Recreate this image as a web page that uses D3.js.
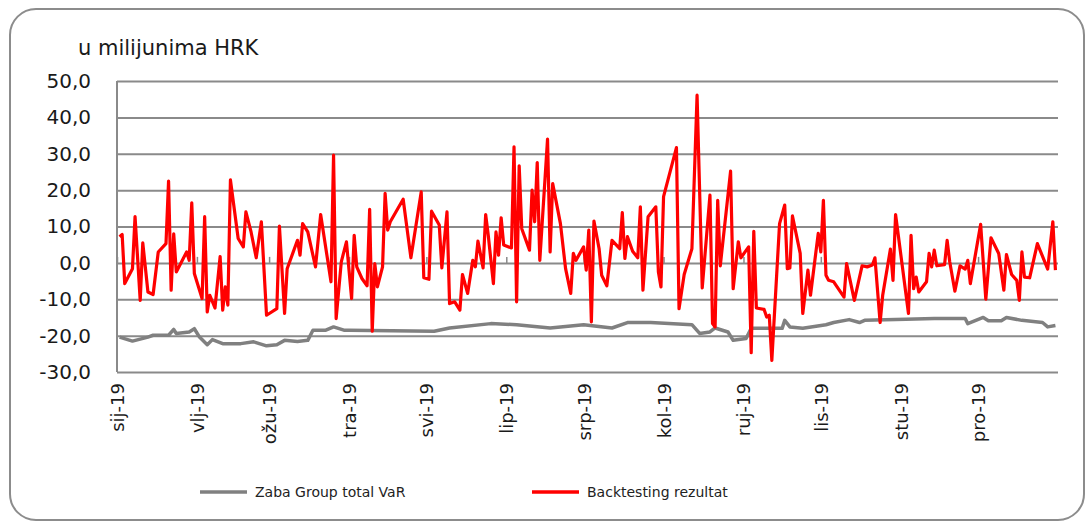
<!DOCTYPE html>
<html>
<head>
<meta charset="utf-8">
<script src="https://cdn.jsdelivr.net/npm/d3@7"></script>
<style>
body{margin:0;background:#fff;}
svg{display:block;font-family:"DejaVu Sans",sans-serif;}
</style>
</head>
<body>
<div class="bod"></div>
<script>
//data
const monthLabels = ['sij-19','vlj-19','ožu-19','tra-19','svi-19','lip-19','srp-19','kol-19','ruj-19','lis-19','stu-19','pro-19']
const yTicks = [50,40,30,20,10,0,-10,-20,-30]

const varDates = ['01-02','01-07','01-13','01-15','01-21','01-23','01-24','01-29','01-31','02-02','02-05','02-07','02-11','02-18','02-23','02-28',
'03-04','03-07','03-12','03-16','03-18','03-23','03-26','03-30','04-01','05-04','05-10','05-26','06-05','06-18','07-01','07-12','07-18','07-27',
'08-12','08-15','08-19','08-21','08-26','08-28','09-02','09-04','09-16','09-17','09-19','09-24','10-03','10-06','10-12','10-16','10-18',
'11-03','11-14','11-26','11-27','12-03','12-05','12-10','12-12','12-18','12-26','12-28','12-31']
const varValues = [-20.4,-21.5,-20.4,-19.9,-19.9,-18.3,-19.4,-19,-18.1,-20.4,-22.5,-21.1,-22.2,-22.2,-21.7,-22.8,
-22.5,-21.3,-21.6,-21.3,-18.5,-18.5,-17.6,-18.5,-18.5,-18.8,-17.9,-16.7,-17,-17.9,-17,-17.9,-16.4,-16.4,
-17,-19.4,-19,-17.9,-19,-21.3,-20.8,-18,-18,-15.8,-17.6,-18,-17,-16.4,-15.6,-16.4,-15.8,
-15.5,-15.3,-15.3,-16.7,-15,-15.9,-15.9,-15,-15.8,-16.4,-17.6,-17.2]

const backDates = ['01-02','01-03','01-04','01-07','01-08','01-10','01-11','01-13','01-15','01-17','01-20','01-21','01-22','01-23','01-24','01-28','01-29','01-30','01-31',
'02-03','02-04','02-05','02-06','02-08','02-10','02-11','02-12','02-13','02-14','02-17','02-19','02-20','02-22','02-24','02-26','02-28',
'03-04','03-05','03-07','03-08','03-12','03-13','03-14','03-16','03-19','03-21','03-25','03-26','03-27','03-29','03-31',
'04-02','04-03','04-04','04-06','04-08','04-09','04-10','04-11','04-12','04-14','04-15','04-16','04-17','04-22','04-25','04-29','04-30',
'05-02','05-03','05-06','05-07','05-09','05-10','05-12','05-14','05-15','05-17','05-19','05-20','05-21','05-23','05-24','05-25','05-27','05-28','05-29','05-30','05-31',
'06-03','06-04','06-05','06-06','06-07','06-10','06-11','06-12','06-13','06-14','06-17','06-18','06-19','06-22','06-24','06-26','06-27','06-28',
'07-01','07-02','07-03','07-04','07-05','07-07','07-08','07-10','07-12','07-15','07-16','07-17','07-18','07-20','07-22','07-23','07-24','07-26','07-29','07-30','07-31',
'08-01','08-06','08-07','08-09','08-12','08-14','08-16','08-19','08-20','08-21','08-22','08-23','08-27','08-28','08-30','08-31',
'09-03','09-04','09-05','09-06','09-09','09-10','09-11','09-12','09-15','09-17','09-18','09-19','09-20','09-23','09-24','09-26','09-27','09-30',
'10-01','10-02','10-03','10-04','10-06','10-10','10-11','10-14','10-17','10-19','10-21','10-22','10-24','10-25','10-28','10-29','10-30',
'11-04','11-05','11-06','11-07','11-08','11-11','11-12','11-13','11-14','11-15','11-18','11-19','11-20','11-22','11-24','11-26','11-27','11-28',
'12-02','12-04','12-06','12-09','12-11','12-12','12-14','12-16','12-17','12-18','12-19','12-21','12-24','12-28','12-30','12-31']
const backValues = [7.2,7.8,-5.7,-1.6,12.7,-10.3,5.5,-8,-8.7,3,5.3,22.5,-7.5,8,-2.5,3,0.7,16.5,-2.9,
-9.8,12.7,-13.5,-8.9,-12.4,1.7,-13,-6.6,-11.6,22.8,6.7,4.4,14,8.5,1.4,11.3,-14.4,
-12.6,10.1,-13.9,-1.6,6.2,2.1,10.8,8.5,-1.1,13.3,-5.2,29.6,-15.3,0.3,5.8,
-9.8,7.6,-1.1,-4.3,-6.3,14.7,-18.8,-0.2,-6.6,-1.1,19.1,9,11.3,17.5,1.4,19.5,-4.1,
-4.5,14.2,10.4,-1.4,14,-11.2,-10.7,-13,-3.2,-8.4,0.7,-1.1,6,-1.4,13.3,7.6,-5.7,8.5,2.1,12.4,4.9,
4.1,31.9,-10.7,26.7,9.4,3.5,20,11.3,27.6,0.7,34,3,21.8,10.8,-1.6,-8.4,2.6,0.7,
4.4,-2,9,-16.2,11.5,3.9,-3.4,-6.3,6.2,3.9,13.8,1.2,7.2,3.2,1.4,15.4,-7.5,12.7,15.4,-2.5,-6.6,
18.2,31.7,-12.6,-3.2,3.9,46.1,-6.9,18.6,-16.7,-17.6,17.2,-0.8,25.2,-7.1,5.8,1.4,
4.4,-24.7,8.7,-12.4,-12.8,-14.9,-14.4,-26.8,10.8,15.9,-1.6,-1.4,12.9,2.6,-13.9,-2,-8.9,8.1,
3,17.2,-3.4,-4.8,-5.2,-9.4,-0.2,-10.3,-0.8,-1.1,-0.6,1.4,-16.4,-8.9,3.8,-4.8,13.3,
-13.9,7.6,-7.1,-3.9,-8,-5.2,2.6,-1.1,3.5,-0.8,-0.5,6.2,0.3,-7.8,-0.8,-1.7,0.7,-5.7,
10.6,-10,6.9,2.6,-7.5,2.3,-3.2,-4.8,-10.3,3,-3.9,-4.1,5.3,-1.7,11.3,-2]

//______________________________________________________________________________________________________________
const size = {width:1090,height:528,left:117,right:1058,top:81,bottom:372}
const parseDay = d3.timeParse('%Y-%m-%d')
const toSeries = (dates,values) => dates.map((d,i)=>({date:parseDay('2019-'+d),value:values[i]}))
const varData = toSeries(varDates,varValues)
const backData = toSeries(backDates,backValues)

const svg = d3.select('.bod')
  .append('svg')
  .attr('width',size.width)
  .attr('height',size.height)

//frame
svg.append('rect')
  .attr('x',10).attr('y',9)
  .attr('width',1074).attr('height',511)
  .attr('rx',26).attr('ry',26)
  .attr('fill','#fff')
  .attr('stroke','#8c8c8c')
  .attr('stroke-width',2)

const x = d3.scaleTime()
  .domain([new Date(2019,0,1),new Date(2020,0,1)])
  .range([size.left,size.right])
const y = d3.scaleLinear()
  .domain([-30,50])
  .range([size.bottom,size.top])

const fmt = v => d3.format('.1f')(v).replace('.',',').replace('−','-')

//y axis + gridlines
const yAxis = svg.append('g')
  .attr('transform',`translate(${size.left},0)`)
  .call(d3.axisLeft(y).tickValues(yTicks).tickSize(-(size.right-size.left)).tickPadding(26).tickFormat(fmt))
yAxis.select('.domain').remove()
yAxis.selectAll('line').attr('stroke','#8a8a8a').attr('stroke-width',2)
yAxis.selectAll('text')
  .attr('fill','#1a1a1a')
  .style('font-size','20px')
  .style('font-family','"DejaVu Sans",sans-serif')

//vertical axis line
svg.append('line')
  .attr('x1',size.left).attr('x2',size.left)
  .attr('y1',size.top).attr('y2',size.bottom)
  .attr('stroke','#8a8a8a').attr('stroke-width',2)

//small month ticks on the zero line
const months = d3.timeMonth.range(new Date(2019,0,1),new Date(2020,0,1))
const zeroAxis = svg.append('g')
  .attr('transform',`translate(0,${y(0)})`)
  .call(d3.axisBottom(x).tickValues(months).tickSizeInner(-6).tickSizeOuter(0).tickFormat(''))
zeroAxis.select('.domain').remove()
zeroAxis.selectAll('line').attr('stroke','#8a8a8a').attr('stroke-width',1.5)

//month labels at the bottom
const xAxis = svg.append('g')
  .attr('transform',`translate(0,${size.bottom})`)
  .call(d3.axisBottom(x).tickValues(months).tickSize(0).tickFormat((d,i)=>monthLabels[i]))
xAxis.select('.domain').remove()
xAxis.selectAll('text')
  .attr('transform','rotate(-90)')
  .attr('text-anchor','end')
  .attr('x',-11)
  .attr('y',0)
  .attr('dy','0.36em')
  .attr('fill','#1a1a1a')
  .style('font-size','18px')
  .style('font-family','"DejaVu Sans",sans-serif')

//lines
const line = d3.line().x(d=>x(d.date)).y(d=>y(d.value))
svg.append('path')
  .datum(varData)
  .attr('d',line)
  .attr('fill','none')
  .attr('stroke','#808080')
  .attr('stroke-width',3.5)
  .attr('stroke-linejoin','round')
svg.append('path')
  .datum(backData)
  .attr('d',line)
  .attr('fill','none')
  .attr('stroke','#ff0000')
  .attr('stroke-width',3.2)
  .attr('stroke-linejoin','round')

//title
svg.append('text')
  .attr('x',78).attr('y',55)
  .text('u milijunima HRK')
  .attr('fill','#1a1a1a')
  .style('font-size','21px')

//legend
const legendItems = [{name:'Zaba Group total VaR',color:'#808080',x:200},{name:'Backtesting rezultat',color:'#ff0000',x:532}]
const legend = svg.selectAll('.legGroup')
  .data(legendItems)
  .enter()
  .append('g')
  .classed('legGroup',true)
  .attr('transform',d=>`translate(${d.x},492)`)
legend.append('line')
  .attr('x1',0).attr('x2',47)
  .attr('stroke',d=>d.color)
  .attr('stroke-width',3.5)
legend.append('text')
  .attr('x',55).attr('dy','0.35em')
  .text(d=>d.name)
  .attr('fill','#222')
  .style('font-size','14px')
</script>
</body>
</html>
